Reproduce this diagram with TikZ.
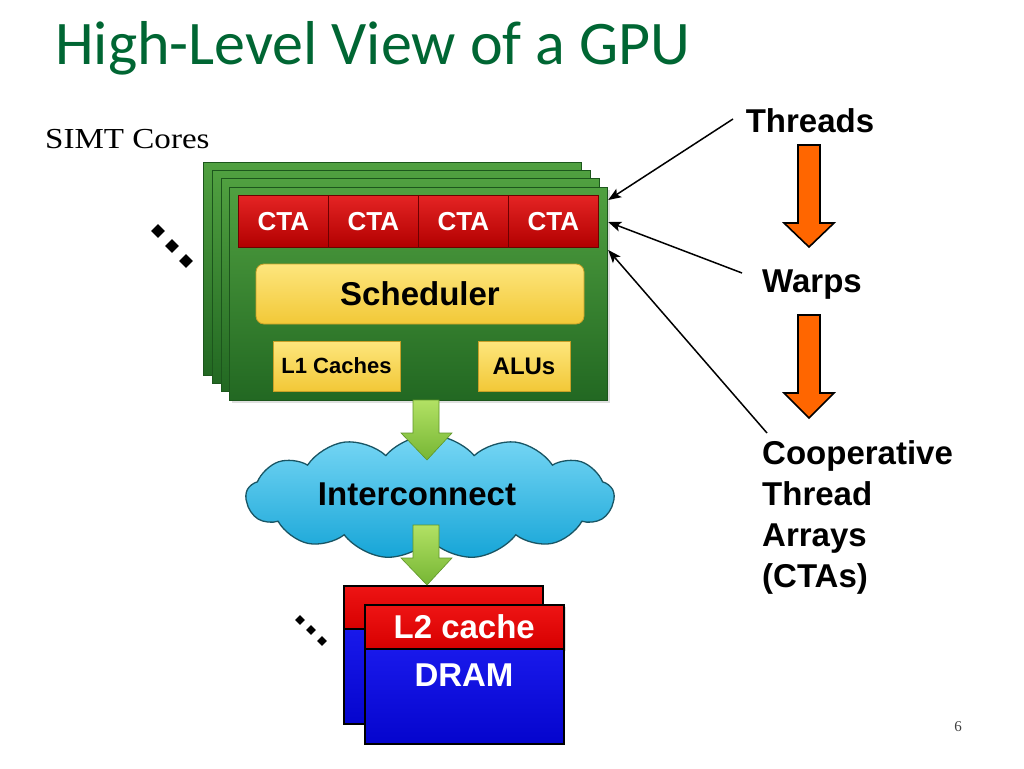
\documentclass[tikz,border=0pt]{standalone}
\usepackage{fontspec}
\usepackage{graphicx}
\setmainfont{Liberation Sans}
\newfontfamily\calibri{Carlito}
\newfontfamily\cambria{Liberation Serif}
\usetikzlibrary{shapes.symbols,shapes.geometric,shadows,arrows.meta,calc}
\definecolor{titlegreen}{RGB}{0,102,51}
\definecolor{coretop}{RGB}{80,160,64}
\definecolor{corebot}{RGB}{34,104,34}
\definecolor{corebord}{RGB}{28,86,28}
\definecolor{ctatop}{RGB}{228,36,36}
\definecolor{ctabot}{RGB}{178,0,0}
\definecolor{ctabord}{RGB}{110,0,0}
\definecolor{yeltop}{RGB}{253,230,125}
\definecolor{yelbot}{RGB}{242,200,55}
\definecolor{yelbord}{RGB}{200,160,40}
\definecolor{grtop}{RGB}{178,225,100}
\definecolor{grbot}{RGB}{118,182,52}
\definecolor{grbord}{RGB}{95,150,40}
\definecolor{cltop}{RGB}{120,215,245}
\definecolor{clbot}{RGB}{22,165,215}
\definecolor{clbord}{RGB}{25,85,100}
\definecolor{l2red}{RGB}{238,20,20}
\definecolor{l2redb}{RGB}{215,0,0}
\definecolor{dblue}{RGB}{25,25,235}
\definecolor{dblueb}{RGB}{5,5,205}
\definecolor{orangearr}{RGB}{255,102,0}
\tikzset{
  corebox/.style={anchor=north west, minimum width=378pt, minimum height=213pt, inner sep=0pt,
    draw=corebord, line width=1.2pt, top color=coretop, bottom color=corebot},
  ctabox/.style={anchor=north west, minimum width=90pt, minimum height=52pt, inner sep=0pt,
    draw=ctabord, line width=0.8pt, top color=ctatop, bottom color=ctabot, text=white,
    font=\bfseries\fontsize{26}{26}\selectfont},
  yelbox/.style={inner sep=0pt, draw=yelbord, line width=0.8pt, top color=yeltop, bottom color=yelbot,
    text=black},
  dotmark/.style={diamond, fill=black, inner sep=0pt, minimum size=14pt},
  smalldot/.style={diamond, fill=black, inner sep=0pt, minimum size=10pt},
  l2box/.style={anchor=north west, minimum width=199pt, inner sep=0pt, draw=black, line width=1.5pt,
    top color=l2red, bottom color=l2redb},
  drambox/.style={anchor=north west, minimum width=199pt, minimum height=95pt, inner sep=0pt,
    draw=black, line width=1.5pt, top color=dblue, bottom color=dblueb},
  bigtext/.style={font=\bfseries\fontsize{33}{33}\selectfont},
  linkarrow/.style={-{Stealth[length=13pt,width=10pt,inset=3pt]}, line width=1.5pt, draw=black},
  blockgreen/.style={draw=grbord, line width=0.6pt, top color=grtop, bottom color=grbot},
  blockorange/.style={draw=black, line width=1.6pt, fill=orangearr},
}
\begin{document}
\begin{tikzpicture}[x=1pt,y=-1pt]
\useasboundingbox (0,0) rectangle (1024,768);
\fill[white] (0,0) rectangle (1024,768);

% title and caption
\node[anchor=base west, text=titlegreen, inner sep=0pt, font=\calibri\fontsize{62}{62}\selectfont] (title) at (55,64) {High-Level View of a GPU};
\node[anchor=base west, inner sep=0pt, font=\cambria\fontsize{29}{29}\selectfont] (simt) at (45,148) {\scalebox{1.14}[1]{SIMT Cores}};

% stacked SIMT cores
\node[corebox] (core4) at (203,162) {};
\node[corebox] (core3) at (212,170) {};
\node[corebox] (core2) at (221,178) {};
\node[corebox, drop shadow={opacity=0.25, shadow xshift=2pt, shadow yshift=-2pt}] (core1) at (229,187) {};

\node[ctabox] (cta1) at (238,195) {CTA};
\node[ctabox] (cta2) at (328,195) {CTA};
\node[ctabox] (cta3) at (418,195) {CTA};
\node[ctabox] (cta4) at (508,195) {CTA};

\node[yelbox, rounded corners=8pt, minimum width=328pt, minimum height=60pt, font=\bfseries\fontsize{33}{33}\selectfont] (sched) at (420,294) {Scheduler};
\node[yelbox, minimum width=127pt, minimum height=50pt, font=\bfseries\fontsize{22}{22}\selectfont] (l1) at (336.5,366) {L1 Caches};
\node[yelbox, minimum width=92pt, minimum height=50pt, font=\bfseries\fontsize{24}{24}\selectfont] (alu) at (524,366) {ALUs};

% ellipsis dots near cores
\node[dotmark] (dA) at (158,231) {};
\node[dotmark] (dB) at (172,246) {};
\node[dotmark] (dC) at (186,261) {};

% interconnect cloud
\node[cloud, cloud puffs=13, cloud puff arc=100, aspect=2.9, minimum width=368pt, minimum height=124pt,
      draw=clbord, line width=1.3pt, top color=cltop, bottom color=clbot] (ic) at (430,497) {};
\node[bigtext, inner sep=0pt] (ictext) at (417,494) {Interconnect};

% memory partitions
\node[l2box, minimum height=43pt] (l2b) at (343,585) {};
\node[drambox] (dramb) at (343,628) {};
\node[l2box, minimum height=44pt, drop shadow={opacity=0.25, shadow xshift=2pt, shadow yshift=-2pt}] (l2f) at (364,604) {};
\node[drambox] (dramf) at (364,648) {};
\node[bigtext, text=white, inner sep=0pt] (l2text) at (l2f.center) {L2 cache};
\node[bigtext, text=white, inner sep=0pt] (dramtext) at (464,675) {DRAM};

\node[smalldot] (dD) at (300,620) {};
\node[smalldot] (dE) at (311,630) {};
\node[smalldot] (dF) at (322,641) {};

% green block arrows
\path[blockgreen] (413,400) -- (439,400) -- (439,433) -- (452,433) -- (427,460) -- (401,433) -- (413,433) -- cycle;
\path[blockgreen] (413,525) -- (439,525) -- (439,558) -- (452,558) -- (427,585) -- (401,558) -- (413,558) -- cycle;

% right side labels
\node[bigtext] (threads) at (810,121) {Threads};
\node[bigtext] (warps) at (812,285) {Warps};
\node[anchor=north west, inner sep=0pt, align=left, font=\bfseries\fontsize{33}{41}\selectfont] (coop) at (762,440) {Cooperative\\Thread\\Arrays\\(CTAs)};

% orange block arrows
\path[blockorange] (798,145) -- (820,145) -- (820,223) -- (834,223) -- (809,247) -- (784,223) -- (798,223) -- cycle;
\path[blockorange] (798,315) -- (820,315) -- (820,393) -- (834,393) -- (809,418) -- (784,393) -- (798,393) -- cycle;

% link arrows
\coordinate (tend) at ($(core1.north east)+(0,13)$);
\coordinate (wend) at ($(core1.north east)+(0,35)$);
\coordinate (cend) at ($(core1.north east)+(0,63)$);
\coordinate (tstart) at (733,119);
\coordinate (wstart) at (742,273);
\coordinate (cstart) at (767,433);
\draw[linkarrow] (tstart) -- (tend);
\draw[linkarrow] (wstart) -- (wend);
\draw[linkarrow] (cstart) -- (cend);

% page number
\node[font=\cambria\fontsize{15}{15}\selectfont, text=black!75] (pg) at (958,727) {6};
\end{tikzpicture}
\end{document}
